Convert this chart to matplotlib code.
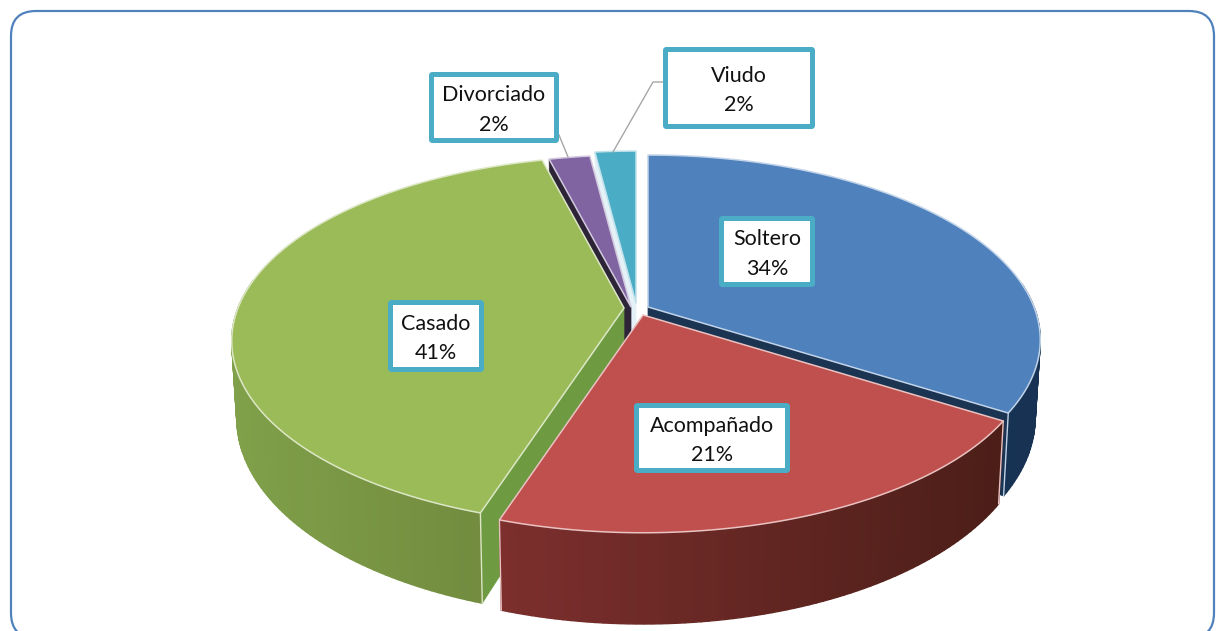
import numpy as np
import matplotlib.pyplot as plt
from matplotlib.patches import FancyBboxPatch, Polygon
from matplotlib.colors import to_rgb

labels = ['Soltero', 'Acompañado', 'Casado', 'Divorciado', 'Viudo']
percents = [34, 21, 41, 2, 2]
topColors = ['#4f81bd', '#c0504d', '#9bbb59', '#8064a2', '#4bacc6']
sideColors = ['#1b3452', '#7a9c45', '#6e9a42', '#2e2438', '#e4f1f6']
rimLeft = ['#1c3a5e', '#7c2f2d', '#80a04a', '#4a3a60', '#2c6a7c']
rimRight = ['#173252', '#4c1e18', '#6f873c', '#4a3a60', '#2c6a7c']

# geometry of the tilted disc, in pixels
apexX = [648, 643, 624, 631, 636]
apexY = [307, 315, 308, 307, 303]
radiusX = 386
radiusY = 179
persp = 0.178
depth = 75
drawOrder = [4, 3, 0, 2, 1]

# label boxes: left, top, right, bottom
boxes = [(719, 216, 815, 287), (634, 403, 790, 473), (388, 300, 484, 372),
	(429, 72, 559, 143), (663, 47, 815, 129)]
leaders = {3: [(559, 135), (568, 157)], 4: [(663, 82), (653, 82), (613, 152)]}

def project(i, angle):
	u = np.sin(angle)
	v = np.cos(angle)
	s = 1 / (1 + persp * v)
	x = apexX[i] + radiusX * u * s
	y = apexY[i] - radiusY * v * s
	return x, y, s

def lower(i, x, y, s):
	return apexX[i] + (x - apexX[i]) * 0.987, y + depth * s

def mix(a, b, t):
	a = np.array(to_rgb(a))
	b = np.array(to_rgb(b))
	return tuple(a + (b - a) * t)

def drawSlice(ax, i, start, end):
	angles = np.linspace(start, end, max(int(np.degrees(end - start)), 4) + 1)
	x, y, s = project(i, angles)
	bx, by = lower(i, x, y, s)
	ax0, ay0 = apexX[i], apexY[i]
	bx0, by0 = lower(i, ax0, ay0, 1.0)
	edge = mix(topColors[i], 'white', 0.65)

	# radial faces that look towards the viewer
	for k, sign in ((0, -1), (-1, 1)):
		if sign * np.sin(angles[k]) > 0:
			face = [(ax0, ay0), (x[k], y[k]), (bx[k], by[k]), (bx0, by0)]
			ax.add_patch(Polygon(face, closed=True, fc=sideColors[i], ec=sideColors[i], lw=0.5))

	# outer rim, split up so it can carry a left to right gradient
	left = x.min()
	right = max(x.max(), left + 1)
	for k in range(len(angles) - 1):
		if np.cos(angles[k]) > 0.15:
			continue
		c = mix(rimLeft[i], rimRight[i], ((x[k] + x[k + 1]) / 2 - left) / (right - left))
		quad = [(x[k], y[k]), (x[k + 1], y[k + 1]), (bx[k + 1], by[k + 1]), (bx[k], by[k])]
		ax.add_patch(Polygon(quad, closed=True, fc=c, ec=c, lw=1.0))
	for k in (0, -1):
		if np.cos(angles[k]) < 0:
			ax.plot([x[k], bx[k]], [y[k], by[k]], color=edge, lw=1.0, solid_capstyle='round')

	top = [(ax0, ay0)] + list(zip(x, y))
	ax.add_patch(Polygon(top, closed=True, fc=topColors[i], ec=edge, lw=1.1, joinstyle='round'))

def drawLabel(ax, i):
	left, top, right, bottom = boxes[i]
	ax.add_patch(FancyBboxPatch((left + 2.5, top + 2.5), right - left - 5, bottom - top - 5,
		boxstyle='round,pad=0,rounding_size=1', fc='white', ec='#4bacc6', lw=3.6, zorder=6))
	ax.text((left + right) / 2, (top + bottom) / 2 + 2.5, '%s\n%d%%' % (labels[i], percents[i]),
		ha='center', va='center', fontsize=15.5, family='Lato', color='#111111',
		linespacing=1.6, zorder=7)

if __name__ == '__main__':
	fig = plt.figure(figsize=(12.25, 6.31), dpi=100)
	ax = fig.add_axes([0, 0, 1, 1])
	ax.set_xlim(0, 1225)
	ax.set_ylim(631, 0)
	ax.axis('off')

	ax.add_patch(FancyBboxPatch((11, 11), 1203, 627, boxstyle='round,pad=0,rounding_size=25',
		fc='white', ec='#4f81bd', lw=1.6))

	fractions = np.array(percents) / sum(percents)
	edges = np.concatenate(([0], np.cumsum(fractions))) * 2 * np.pi
	for i in drawOrder:
		drawSlice(ax, i, edges[i], edges[i + 1])

	for i, pts in leaders.items():
		ax.plot([p[0] for p in pts], [p[1] for p in pts], color='#a6a6a6', lw=1.0, zorder=5)
	for i in range(len(labels)):
		drawLabel(ax, i)

	fig.savefig('out.png', dpi=100)
